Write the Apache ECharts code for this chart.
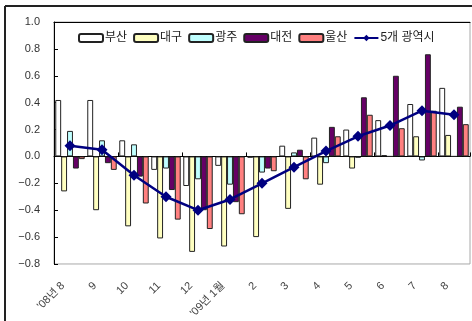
<!DOCTYPE html>
<html>
<head>
<meta charset="utf-8">
<script src="https://cdn.jsdelivr.net/npm/echarts@6/dist/echarts.min.js"></script>
<style>
html,body{margin:0;padding:0;background:#fff;}
#chart{width:472px;height:321px;}
</style>
</head>
<body>
<div id="chart"></div>
<script>
var categories = ["'08년 8", "9", "10", "11", "12", "'09년 1월", "2", "3", "4", "5", "6", "7", "8"];
var busan   = [0.42, 0.42, 0.12, -0.10, -0.22, -0.07, -0.01, 0.08, 0.14, 0.20, 0.27, 0.39, 0.51];
var daegu   = [-0.26, -0.40, -0.52, -0.61, -0.71, -0.67, -0.60, -0.39, -0.21, -0.09, 0.01, 0.15, 0.16];
var gwangju = [0.19, 0.12, 0.09, -0.09, -0.17, -0.21, -0.12, 0.03, -0.05, -0.01, 0.00, -0.03, 0.00];
var daejeon = [-0.09, -0.05, -0.15, -0.25, -0.40, -0.34, -0.09, 0.05, 0.22, 0.44, 0.60, 0.76, 0.37];
var ulsan   = [-0.02, -0.10, -0.35, -0.47, -0.54, -0.43, -0.11, -0.17, 0.15, 0.31, 0.21, 0.34, 0.24];
var total5  = [0.08, 0.05, -0.14, -0.30, -0.40, -0.32, -0.20, -0.08, 0.04, 0.15, 0.23, 0.34, 0.31];
var seriesNames = ['부산', '대구', '광주', '대전', '울산', '5개 광역시'];

var FONT = '"Liberation Sans", "Noto Sans CJK KR", sans-serif';
var chart = echarts.init(document.getElementById('chart'), null, {renderer: 'canvas'});

function bar(name, data, color) {
  return {
    name: name, type: 'bar', data: data, xAxisIndex: 0,
    barGap: '0%', barCategoryGap: '8%',
    itemStyle: {color: color, borderColor: '#222', borderWidth: 1},
    emphasis: {disabled: true}
  };
}

chart.setOption({
  animation: false,
  textStyle: {fontFamily: FONT},
  grid: {left: 54, right: 2, top: 22, bottom: 56, show: true, borderColor: '#a8a8a8', borderWidth: 1, backgroundColor: '#fff'},
  legend: {
    left: 78, top: 32, padding: 0,
    itemWidth: 24, itemHeight: 8, itemGap: 6,
    textStyle: {fontSize: 12, color: '#222', fontFamily: FONT, padding: [0,0,0,-3]},
    data: seriesNames
  },
  xAxis: [
    {
      type: 'category', data: categories, position: 'bottom',
      axisLine: {onZero: false, show: false},
      axisTick: {show: false},
      axisLabel: {rotate: 45, margin: 13, fontSize: 11, color: '#444', fontFamily: FONT, interval: 0, padding: [0, 10, 0, 0]}
    },
    {
      type: 'category', data: categories, position: 'bottom',
      axisLine: {onZero: true, lineStyle: {color: '#000', width: 1}},
      axisTick: {show: true, inside: true, length: 4, lineStyle: {color: '#000'}},
      axisLabel: {show: false}
    },
    {
      type: 'category', data: categories, position: 'top',
      axisLine: {show: true, lineStyle: {color: '#000', width: 1}},
      axisTick: {show: false},
      axisLabel: {show: false}
    }
  ],
  yAxis: {
    type: 'value', min: -0.8, max: 1.0, interval: 0.2,
    axisLine: {show: true, lineStyle: {color: '#000', width: 1}},
    axisTick: {show: true, inside: true, length: 4, lineStyle: {color: '#000'}},
    splitLine: {show: false},
    axisLabel: {
      fontSize: 11, color: '#333', margin: 14, fontFamily: FONT,
      formatter: function (v) {
        if (Math.abs(v) < 1e-9) return '0.0';
        return v.toFixed(1).replace('-', '\u2212');
      }
    }
  },
  series: [
    bar(seriesNames[0], busan, '#ffffff'),
    bar(seriesNames[1], daegu, '#ffffc0'),
    bar(seriesNames[2], gwangju, '#c0ffff'),
    bar(seriesNames[3], daejeon, '#660066'),
    bar(seriesNames[4], ulsan, '#ff8080'),
    {
      name: seriesNames[5], type: 'line', data: total5, xAxisIndex: 0,
      symbol: 'diamond', symbolSize: 11, z: 5,
      lineStyle: {color: '#000080', width: 2.5},
      itemStyle: {color: '#000080'},
      emphasis: {disabled: true}
    }
  ],
  graphic: [
    {type: 'line', shape: {x1: 5, y1: 6, x2: 472, y2: 6}, style: {stroke: '#222', lineWidth: 2}, silent: true},
    {type: 'line', shape: {x1: 5, y1: 6, x2: 5, y2: 321}, style: {stroke: '#222', lineWidth: 2}, silent: true}
  ]
});
</script>
</body>
</html>
